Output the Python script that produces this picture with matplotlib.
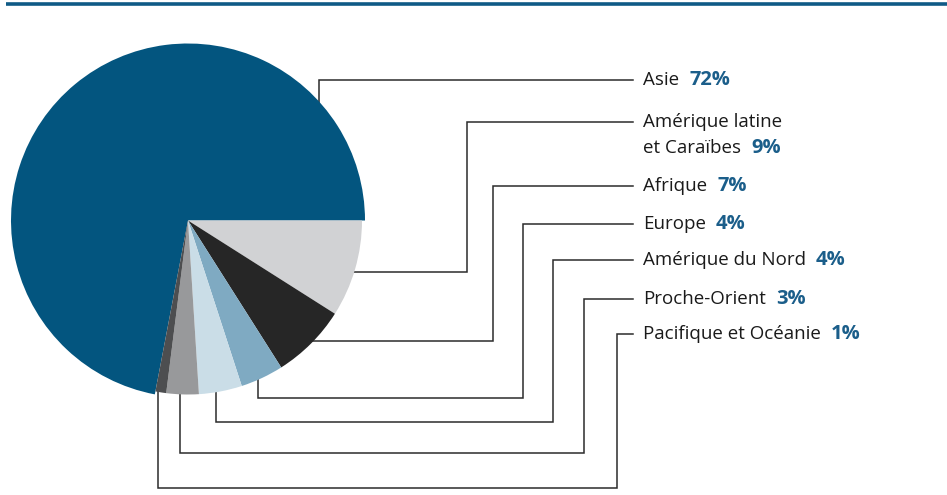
import matplotlib
matplotlib.use("Agg")
import matplotlib.pyplot as plt
import numpy as np

# Régions et parts (%)
regions = ["Asie", "Amérique latine\net Caraïbes", "Afrique", "Europe",
           "Amérique du Nord", "Proche-Orient", "Pacifique et Océanie"]
shares = [72, 9, 7, 4, 4, 3, 1]
colors = ["#03557f", "#d1d2d4", "#262626", "#7faac2",
          "#cadde7", "#98999b", "#4d4e50"]

PCT_C = "#1b5e8a"
LINE_C = "#2b2b2b"
FONT = "Open Sans"

W, H = 947, 495
CX, CY, R = 188, 220.5, 174

# leader layout: where on the wedge the line leaves, elbow x, label y, bottom y
anchor_frac = [0.855, 0.56, 0.57, 0.50, 0.57, 0.59, 0.90]
elbow_x = [None, 466.5, 493, 523, 553, 584, 617]
label_y = [80, 121.7, 186, 224, 260, 299, 334]
bottom_y = [None, None, None, 398, 422, 453, 488]
LINE_END = 633
TEXT_X = 643

fig = plt.figure(figsize=(W / 100, H / 100), dpi=100)
ax = fig.add_axes([0, 0, 1, 1])

# y runs downward, so counterclock here turns clockwise on screen;
# the first wedge ends exactly on the horizontal at 3 o'clock
start = -3.6 * shares[0] / sum(shares) * 100
wedges, _ = ax.pie(shares, colors=colors, startangle=start, counterclock=True,
                   center=(CX, CY), radius=R,
                   wedgeprops=dict(linewidth=0, zorder=3))
wedges[0].set_radius(R + 3)

ax.set_xlim(0, W)
ax.set_ylim(H, 0)
ax.set_aspect("equal")
ax.axis("off")

# header rule
ax.plot([6, W], [4, 4], color="#0f5a86", lw=2.6, solid_capstyle="butt",
        zorder=2)

for i, w in enumerate(wedges):
    th = np.radians(w.theta1 + anchor_frac[i] * (w.theta2 - w.theta1))
    ax_, ay = CX + 0.95 * R * np.cos(th), CY + 0.95 * R * np.sin(th)
    ly = label_y[i]
    if i == 0:
        xs, ys = [ax_, ax_, LINE_END], [ay, ly, ly]
    elif bottom_y[i] is None:
        ex = elbow_x[i]
        xs, ys = [ax_, ex, ex, LINE_END], [ay, ay, ly, ly]
    else:
        ex, by = elbow_x[i], bottom_y[i]
        xs, ys = [ax_, ax_, ex, ex, LINE_END], [ay, by, by, ly, ly]
    ax.plot(xs, ys, color=LINE_C, lw=1.1, zorder=1,
            solid_joinstyle="miter")

fig.canvas.draw()
renderer = fig.canvas.get_renderer()
inv = ax.transData.inverted()
LINE_STEP = 26.7
FS = 13.5

for i, name in enumerate(regions):
    lines = name.split("\n")
    y = label_y[i]
    for j, line in enumerate(lines):
        t = ax.text(TEXT_X, y + j * LINE_STEP, line, fontsize=FS,
                    family=FONT, color="#1a1a1a", ha="left", va="center")
    bb = t.get_window_extent(renderer)
    x_end = inv.transform((bb.x1, bb.y0))[0]
    ax.text(x_end + 10, y + (len(lines) - 1) * LINE_STEP, f"{shares[i]}%",
            fontsize=14.5, family=FONT, fontweight="bold", color=PCT_C,
            ha="left", va="center")

fig.savefig("out.png", dpi=100, facecolor="white")
